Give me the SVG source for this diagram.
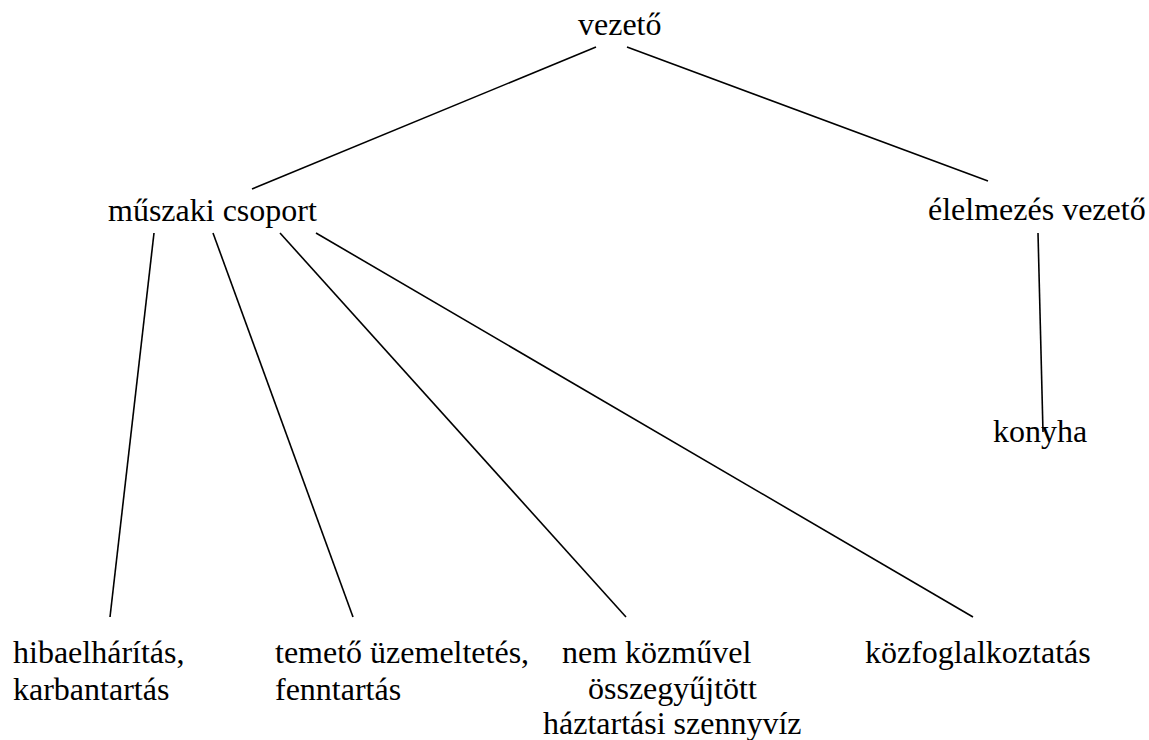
<svg xmlns="http://www.w3.org/2000/svg" width="1149" height="740" viewBox="0 0 1149 740">
<style>
.c line{stroke:#000;stroke-width:1.6;fill:none}
text{font-family:"Liberation Serif","Times New Roman",serif;font-size:32px;fill:#000}
</style>
<rect width="1149" height="740" fill="#fff"/>
<g class="c" id="connectors">
<line x1="596" y1="47" x2="252" y2="189"/>
<line x1="627" y1="47" x2="988" y2="181"/>
<line x1="154" y1="233" x2="110" y2="617"/>
<line x1="213" y1="233" x2="353" y2="617"/>
<line x1="280" y1="233" x2="626" y2="617"/>
<line x1="316" y1="233" x2="973" y2="617"/>
<line x1="1038" y1="233" x2="1043" y2="432"/>
</g>
<g id="vezeto"><text x="578" y="35">vezető</text></g>
<g id="muszaki"><text x="108" y="221">műszaki csoport</text></g>
<g id="elelmezes"><text x="928" y="220">élelmezés vezető</text></g>
<g id="konyha"><text x="993" y="442">konyha</text></g>
<g id="hiba"><text x="13" y="663">hibaelhárítás,</text><text x="13" y="700">karbantartás</text></g>
<g id="temeto"><text x="275" y="663">temető üzemeltetés,</text><text x="275" y="700">fenntartás</text></g>
<g id="szennyviz"><text x="562" y="663">nem közművel</text><text x="588" y="699">összegyűjtött</text><text x="543" y="734">háztartási szennyvíz</text></g>
<g id="kozfog"><text x="865" y="663">közfoglalkoztatás</text></g>
</svg>
